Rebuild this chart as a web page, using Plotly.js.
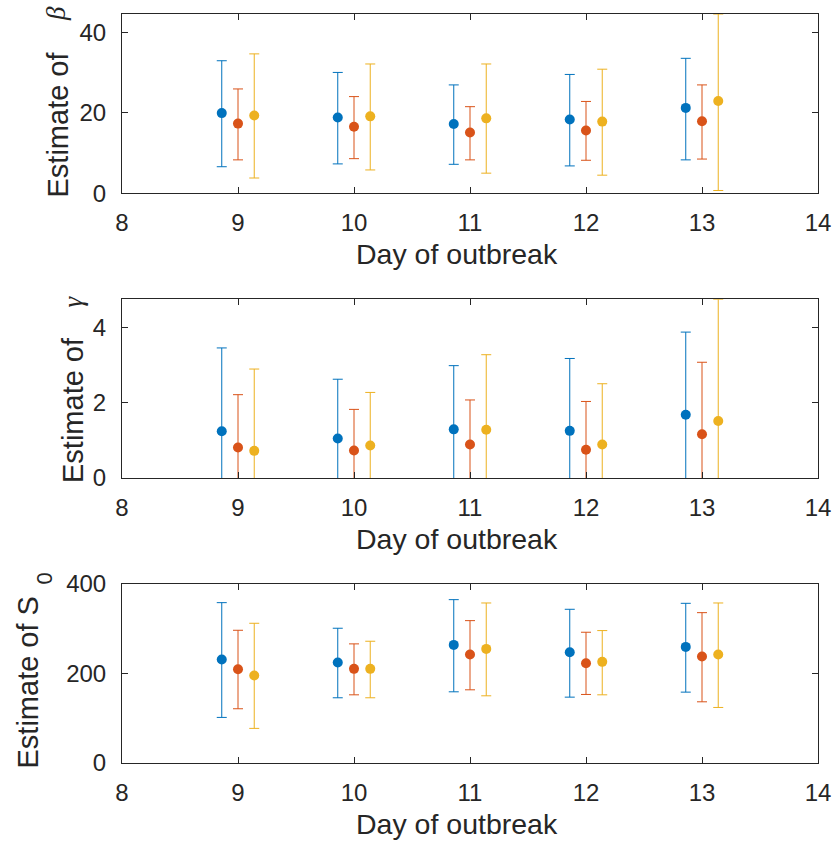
<!DOCTYPE html>
<html>
<head>
<meta charset="utf-8">
<script src="https://cdn.plot.ly/plotly-3.0.1.min.js"></script>
<style>html,body{margin:0;padding:0;background:#fff;}</style>
</head>
<body>
<div id="chart" style="width:834px;height:846px;"></div>
<script>
// ---- Data ----
var days = [9, 10, 11, 12, 13];
var seriesColors = ['#0072BD', '#D95319', '#EDB120'];

// beta estimates (three series)
var betaMean1 = [19.9, 18.8, 17.2, 18.3, 21.2];
var betaHi1   = [32.9, 30.0, 26.9, 29.5, 33.5];
var betaLo1   = [6.6, 7.3, 7.2, 6.8, 8.3];
var betaMean2 = [17.3, 16.5, 15.1, 15.6, 17.9];
var betaHi2   = [25.9, 24.0, 21.5, 22.8, 26.9];
var betaLo2   = [8.3, 8.6, 8.3, 8.2, 8.5];
var betaMean3 = [19.3, 19.1, 18.6, 17.8, 22.9];
var betaHi3   = [34.6, 32.1, 32.1, 30.8, 44.5];
var betaLo3   = [3.8, 5.8, 5.0, 4.5, 0.7];

// gamma estimates
var gammaMean1 = [1.24, 1.05, 1.29, 1.25, 1.68];
var gammaHi1   = [3.45, 2.62, 2.98, 3.17, 3.87];
var gammaLo1   = [-0.97, -0.52, -0.40, -0.67, -0.51];
var gammaMean2 = [0.81, 0.73, 0.89, 0.75, 1.16];
var gammaHi2   = [2.21, 1.82, 2.07, 2.03, 3.07];
var gammaLo2   = [-0.59, -0.36, -0.29, -0.53, -0.75];
var gammaMean3 = [0.72, 0.86, 1.28, 0.89, 1.51];
var gammaHi3   = [2.89, 2.27, 3.27, 2.50, 4.74];
var gammaLo3   = [-1.45, -0.55, -0.71, -0.72, -1.72];

// S0 estimates
var s0Mean1 = [230.8, 224.1, 263.5, 247.1, 259.0];
var s0Hi1   = [357.7, 300.6, 364.4, 342.9, 356.2];
var s0Lo1   = [101.7, 145.5, 158.8, 146.9, 158.1];
var s0Mean2 = [209.3, 210.0, 241.9, 222.6, 237.5];
var s0Hi2   = [296.1, 265.7, 317.6, 291.7, 335.4];
var s0Lo2   = [121.0, 152.1, 163.3, 152.9, 136.5];
var s0Mean3 = [195.2, 210.0, 254.5, 225.6, 241.9];
var s0Hi3   = [311.7, 271.6, 357.0, 295.4, 357.0];
var s0Lo3   = [77.2, 145.5, 149.9, 152.1, 123.9];

var xTickVals = [8, 9, 10, 11, 12, 13, 14];
var betaTicks = [0, 20, 40];
var gammaTicks = [0, 2, 4];
var s0Ticks = [0, 200, 400];
var xLabel = 'Day of outbreak';
var yLabel = 'Estimate of';
var yLabelS = 'Estimate of S';
var symBeta = 'β', symGamma = 'γ', subZero = '0';

// ---- Build ----
var offsets = [-0.14, 0, 0.14];
var panels = [
  {means:[betaMean1,betaMean2,betaMean3], his:[betaHi1,betaHi2,betaHi3], los:[betaLo1,betaLo2,betaLo3], ax:''},
  {means:[gammaMean1,gammaMean2,gammaMean3], his:[gammaHi1,gammaHi2,gammaHi3], los:[gammaLo1,gammaLo2,gammaLo3], ax:'2'},
  {means:[s0Mean1,s0Mean2,s0Mean3], his:[s0Hi1,s0Hi2,s0Hi3], los:[s0Lo1,s0Lo2,s0Lo3], ax:'3'}
];
var traces = [];
panels.forEach(function(p){
  for (var s = 0; s < 3; s++) {
    var m = p.means[s], hi = p.his[s], lo = p.los[s];
    traces.push({
      type: 'scatter', mode: 'markers',
      x: days.map(function(d){ return d + offsets[s]; }),
      y: m,
      xaxis: 'x' + p.ax, yaxis: 'y' + p.ax,
      marker: {color: seriesColors[s], size: 10},
      error_y: {type: 'data', symmetric: false,
        array: hi.map(function(v,i){ return v - m[i]; }),
        arrayminus: lo.map(function(v,i){ return m[i] - v; }),
        color: seriesColors[s], thickness: 1, width: 5},
      showlegend: false, hoverinfo: 'skip'
    });
  }
});

var axisColor = '#262626';
var fontFam = '"Liberation Sans", Arial, Helvetica, sans-serif';
var serifFam = '"Liberation Serif", "Times New Roman", serif';
function xAxis(anchor) {
  return {
    domain: [0, 1], range: [8, 14], tickvals: xTickVals, ticks: 'inside', ticklen: 6, tickcolor: axisColor,
    showline: true, linecolor: axisColor, linewidth: 1, mirror: 'ticks',
    showgrid: false, zeroline: false, anchor: anchor, ticklabelstandoff: 8,
    tickfont: {size: 24, color: axisColor, family: fontFam}
  };
}
function yAxis(domain, range, ticks, anchor) {
  return {
    domain: domain, range: range, tickvals: ticks, ticks: 'inside', ticklen: 6, tickcolor: axisColor,
    showline: true, linecolor: axisColor, linewidth: 1, mirror: 'ticks',
    showgrid: false, zeroline: false, anchor: anchor, ticklabelstandoff: 10,
    tickfont: {size: 24, color: axisColor, family: fontFam}
  };
}

// pixel -> paper helpers for label placement (plot area: l=122, t=14, w=696, h=749)
var L = 122, T = 14, W = 696, H = 749;
function px(x) { return (x - L) / W; }
function py(y) { return (T + H - y) / H; }
function label(text, x, y, size, angle, fam) {
  return {text: text, xref: 'paper', yref: 'paper', x: px(x), y: py(y),
    xanchor: 'center', yanchor: 'middle', showarrow: false, textangle: angle || 0,
    font: {size: size, color: axisColor, family: fam || fontFam}};
}

var annotations = [
  label(xLabel, 457, 253.8, 28.5),
  label(xLabel, 457, 538.5, 28.5),
  label(xLabel, 457, 823.8, 28.5),
  label(yLabel, 57, 124.5, 29, -90),
  label('<i>' + symBeta + '</i>', 56, 14, 27, -90, serifFam),
  label(yLabel, 73, 410, 29, -90),
  label('<i>' + symGamma + '</i>', 72, 301.5, 27, -90, serifFam),
  label(yLabelS, 27, 682.5, 29, -90),
  label(subZero, 44.4, 578, 22, -90)
];

var layout = {
  width: 834, height: 846,
  paper_bgcolor: '#fff', plot_bgcolor: '#fff',
  margin: {l: L, r: 834 - L - W, t: T, b: 846 - T - H},
  font: {family: fontFam, color: axisColor},
  showlegend: false,
  xaxis: xAxis('y'),
  xaxis2: xAxis('y2'),
  xaxis3: xAxis('y3'),
  yaxis: yAxis([0.7606, 1], [0, Math.max.apply(null, betaHi3)], betaTicks, 'x'),
  yaxis2: yAxis([0.3805, 0.6191], [0, Math.max.apply(null, gammaHi3)], gammaTicks, 'x2'),
  yaxis3: yAxis([0, 0.2394], [0, 400], s0Ticks, 'x3'),
  annotations: annotations
};

Plotly.newPlot('chart', traces, layout, {staticPlot: true, displayModeBar: false});
</script>
</body>
</html>
